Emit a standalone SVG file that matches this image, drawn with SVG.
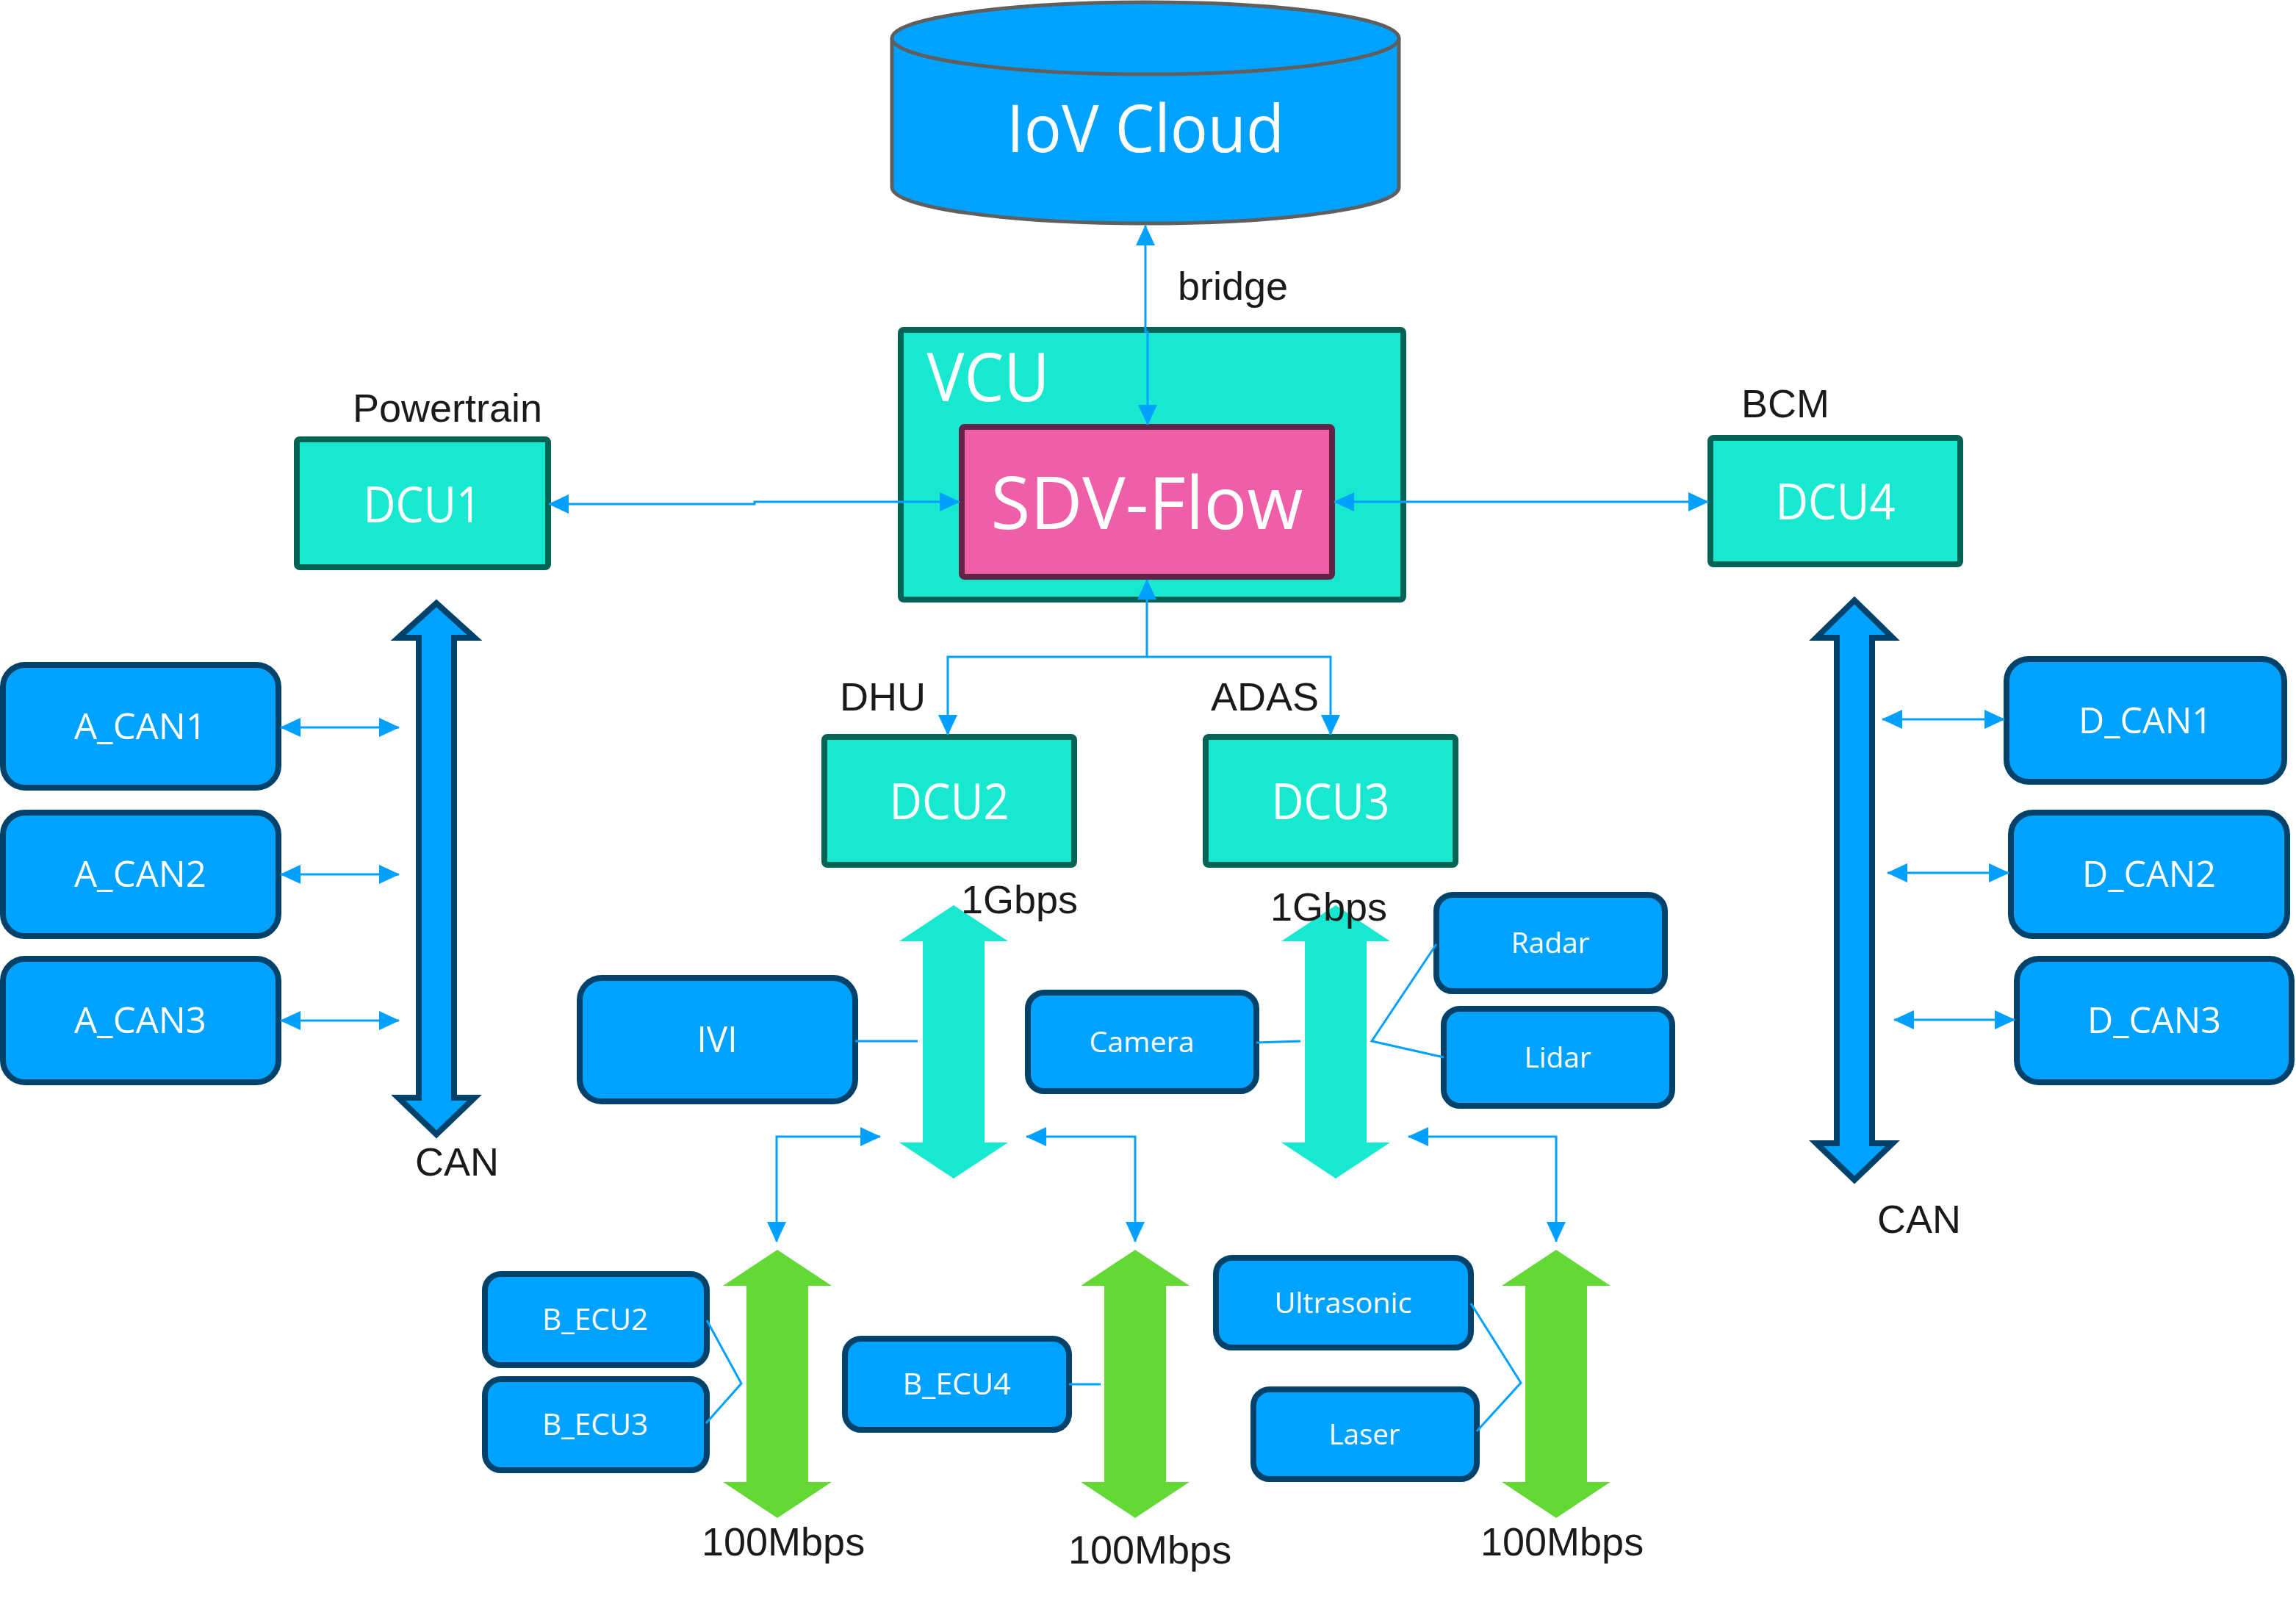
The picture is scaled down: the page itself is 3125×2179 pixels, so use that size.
<svg xmlns="http://www.w3.org/2000/svg" width="3125" height="2179" viewBox="0 0 3125 2179">
<defs>
<marker id="ah" markerUnits="userSpaceOnUse" markerWidth="28" markerHeight="28" viewBox="0 0 28 28" refX="27" refY="14" orient="auto-start-reverse">
<path d="M0,1 L28,14 L0,27 z" fill="#00A0FF"/>
</marker>
<style>
.wl{font-family:"Open Sans","Noto Sans","DejaVu Sans",sans-serif;fill:#ffffff;text-anchor:middle}
.bl{font-family:"Liberation Sans",Arial,sans-serif;fill:#1a1a1a;font-size:54px}
.dcu{fill:#17E8CF;stroke:#036354;stroke-width:8}
.blue{fill:#00A2FF;stroke:#01426B;stroke-width:8}
.con{fill:none;stroke:#00A0FF;stroke-width:3}
.arr{marker-start:url(#ah);marker-end:url(#ah)}
.end{marker-end:url(#ah)}
.cyan{fill:#17E8CF}
.green{fill:#64D936}
.can{fill:#00A2FF;stroke:#01426B;stroke-width:8;stroke-linejoin:miter}
</style>
</defs>
<rect width="3125" height="2179" fill="#ffffff"/>

<g id="iov-cloud">
<path d="M1214,52 V255 A345,49 0 0 0 1904,255 V52" fill="#00A2FF" stroke="#5F5F5F" stroke-width="5"/>
<ellipse cx="1559" cy="52" rx="345" ry="49" fill="#00A2FF" stroke="#5F5F5F" stroke-width="5"/>
<text class="wl" x="1559" y="207" font-size="90" textLength="378" lengthAdjust="spacingAndGlyphs">IoV Cloud</text>
</g>

<g id="vcu">
<rect x="1226" y="449" width="684" height="367" rx="4" class="dcu"/>
<text class="wl" x="1345" y="546" font-size="91" textLength="167" lengthAdjust="spacingAndGlyphs">VCU</text>
</g>

<g id="sdv-flow">
<rect x="1309" y="581" width="504" height="204" rx="4" fill="#EF5FA7" stroke="#632345" stroke-width="8"/>
<text class="wl" x="1561" y="720" font-size="98" textLength="425" lengthAdjust="spacingAndGlyphs">SDV-Flow</text>
</g>

<g id="dcu1">
<rect x="404" y="598" width="342" height="174" rx="4" class="dcu"/>
<text class="wl" x="575" y="711" font-size="67" textLength="161" lengthAdjust="spacingAndGlyphs">DCU1</text>
</g>
<g id="dcu4">
<rect x="2328" y="596" width="340" height="172" rx="4" class="dcu"/>
<text class="wl" x="2498" y="707" font-size="67" textLength="163" lengthAdjust="spacingAndGlyphs">DCU4</text>
</g>
<g id="dcu2">
<rect x="1122" y="1003" width="340" height="174" rx="4" class="dcu"/>
<text class="wl" x="1292" y="1115" font-size="67" textLength="163" lengthAdjust="spacingAndGlyphs">DCU2</text>
</g>
<g id="dcu3">
<rect x="1641" y="1003" width="340" height="174" rx="4" class="dcu"/>
<text class="wl" x="1811" y="1115" font-size="67" textLength="161" lengthAdjust="spacingAndGlyphs">DCU3</text>
</g>

<g id="a-can1">
<rect x="4" y="905" width="375" height="167" rx="30" class="blue"/>
<text class="wl" x="191" y="1006" font-size="49" textLength="180" lengthAdjust="spacingAndGlyphs">A_CAN1</text>
</g>
<g id="a-can2">
<rect x="4" y="1106" width="375" height="168" rx="30" class="blue"/>
<text class="wl" x="191" y="1207" font-size="49" textLength="180" lengthAdjust="spacingAndGlyphs">A_CAN2</text>
</g>
<g id="a-can3">
<rect x="4" y="1305" width="375" height="168" rx="30" class="blue"/>
<text class="wl" x="191" y="1406" font-size="49" textLength="180" lengthAdjust="spacingAndGlyphs">A_CAN3</text>
</g>

<g id="d-can1">
<rect x="2731" y="897" width="378" height="167" rx="30" class="blue"/>
<text class="wl" x="2920" y="998" font-size="49" textLength="182" lengthAdjust="spacingAndGlyphs">D_CAN1</text>
</g>
<g id="d-can2">
<rect x="2737" y="1106" width="376" height="168" rx="30" class="blue"/>
<text class="wl" x="2925" y="1207" font-size="49" textLength="182" lengthAdjust="spacingAndGlyphs">D_CAN2</text>
</g>
<g id="d-can3">
<rect x="2745" y="1305" width="374" height="168" rx="30" class="blue"/>
<text class="wl" x="2932" y="1406" font-size="49" textLength="182" lengthAdjust="spacingAndGlyphs">D_CAN3</text>
</g>

<g id="ivi">
<rect x="789" y="1331" width="375" height="168" rx="30" class="blue"/>
<text class="wl" x="976" y="1432" font-size="49" textLength="55" lengthAdjust="spacingAndGlyphs">IVI</text>
</g>
<g id="camera">
<rect x="1399" y="1351" width="311" height="134" rx="22" class="blue"/>
<text class="wl" x="1554" y="1432" font-size="39" textLength="143" lengthAdjust="spacingAndGlyphs">Camera</text>
</g>
<g id="radar">
<rect x="1955" y="1218" width="311" height="131" rx="22" class="blue"/>
<text class="wl" x="2110" y="1297" font-size="39" textLength="107" lengthAdjust="spacingAndGlyphs">Radar</text>
</g>
<g id="lidar">
<rect x="1965" y="1373" width="311" height="132" rx="22" class="blue"/>
<text class="wl" x="2120" y="1453" font-size="39" textLength="91" lengthAdjust="spacingAndGlyphs">Lidar</text>
</g>
<g id="ultrasonic">
<rect x="1655" y="1712" width="347" height="122" rx="22" class="blue"/>
<text class="wl" x="1828" y="1787" font-size="39" textLength="187" lengthAdjust="spacingAndGlyphs">Ultrasonic</text>
</g>
<g id="laser">
<rect x="1706" y="1891" width="304" height="122" rx="22" class="blue"/>
<text class="wl" x="1857" y="1966" font-size="39" textLength="97" lengthAdjust="spacingAndGlyphs">Laser</text>
</g>
<g id="b-ecu2">
<rect x="660" y="1734" width="302" height="124" rx="22" class="blue"/>
<text class="wl" x="810" y="1810" font-size="40" textLength="144" lengthAdjust="spacingAndGlyphs">B_ECU2</text>
</g>
<g id="b-ecu3">
<rect x="660" y="1877" width="302" height="124" rx="22" class="blue"/>
<text class="wl" x="810" y="1953" font-size="40" textLength="144" lengthAdjust="spacingAndGlyphs">B_ECU3</text>
</g>
<g id="b-ecu4">
<rect x="1150" y="1822" width="305" height="124" rx="22" class="blue"/>
<text class="wl" x="1302" y="1898" font-size="40" textLength="147" lengthAdjust="spacingAndGlyphs">B_ECU4</text>
</g>

<g id="can-bus-left">
<polygon class="can" points="594,821 646,868 618,868 618,1494 646,1494 594,1544 542,1494 570,1494 570,868 542,868"/>
</g>
<g id="can-bus-right">
<polygon class="can" points="2524,817 2576,868 2548,868 2548,1556 2576,1556 2524,1606 2472,1556 2500,1556 2500,868 2472,868"/>
</g>
<g id="eth-1g-dhu">
<polygon class="cyan" points="1298,1232 1372,1281 1340,1281 1340,1555 1372,1555 1298,1604 1224,1555 1256,1555 1256,1281 1224,1281"/>
</g>
<g id="eth-1g-adas">
<polygon class="cyan" points="1818,1232 1892,1281 1860,1281 1860,1555 1892,1555 1818,1604 1744,1555 1776,1555 1776,1281 1744,1281"/>
</g>
<g id="eth-100m-1">
<polygon class="green" points="1058,1701 1132,1750 1100,1750 1100,2017 1132,2017 1058,2066 984,2017 1016,2017 1016,1750 984,1750"/>
</g>
<g id="eth-100m-2">
<polygon class="green" points="1545,1701 1619,1750 1587,1750 1587,2017 1619,2017 1545,2066 1471,2017 1503,2017 1503,1750 1471,1750"/>
</g>
<g id="eth-100m-3">
<polygon class="green" points="2118,1701 2192,1750 2160,1750 2160,2017 2192,2017 2118,2066 2044,2017 2076,2017 2076,1750 2044,1750"/>
</g>

<g id="connectors">
<path class="con arr" d="M1559,307 V452 H1562 V578"/>
<path class="con arr" d="M747,686 H1027 V683 H1306"/>
<path class="con arr" d="M1816,683 H2325"/>
<path class="con arr" d="M1290,1000 V894 H1561 V789"/>
<path class="con end" d="M1561,894 H1811 V1000"/>
<path class="con arr" d="M382,990 H543"/>
<path class="con arr" d="M382,1190 H543"/>
<path class="con arr" d="M382,1389 H543"/>
<path class="con arr" d="M2562,979 H2728"/>
<path class="con arr" d="M2569,1188 H2734"/>
<path class="con arr" d="M2578,1388 H2742"/>
<path class="con" d="M1164,1417 H1249"/>
<path class="con" d="M1710,1419 L1770,1417"/>
<path class="con" d="M1955,1285 L1867,1417 L1965,1439"/>
<path class="con" d="M962,1797 L1009,1883 L961,1937"/>
<path class="con" d="M1455,1884 H1498"/>
<path class="con" d="M2002,1774 L2070,1882 L2010,1948"/>
<path class="con arr" d="M1198,1547 H1057 V1690"/>
<path class="con arr" d="M1397,1547 H1545 V1690"/>
<path class="con arr" d="M1917,1547 H2118 V1690"/>
</g>

<g id="labels">
<text class="bl" x="1603" y="408">bridge</text>
<text class="bl" x="480" y="574">Powertrain</text>
<text class="bl" x="2370" y="568">BCM</text>
<text class="bl" x="1143" y="967">DHU</text>
<text class="bl" x="1648" y="967">ADAS</text>
<text class="bl" x="1308" y="1243">1Gbps</text>
<text class="bl" x="1729" y="1253">1Gbps</text>
<text class="bl" x="565" y="1600">CAN</text>
<text class="bl" x="2555" y="1678">CAN</text>
<text class="bl" x="955" y="2117">100Mbps</text>
<text class="bl" x="1454" y="2128">100Mbps</text>
<text class="bl" x="2015" y="2117">100Mbps</text>
</g>
</svg>
